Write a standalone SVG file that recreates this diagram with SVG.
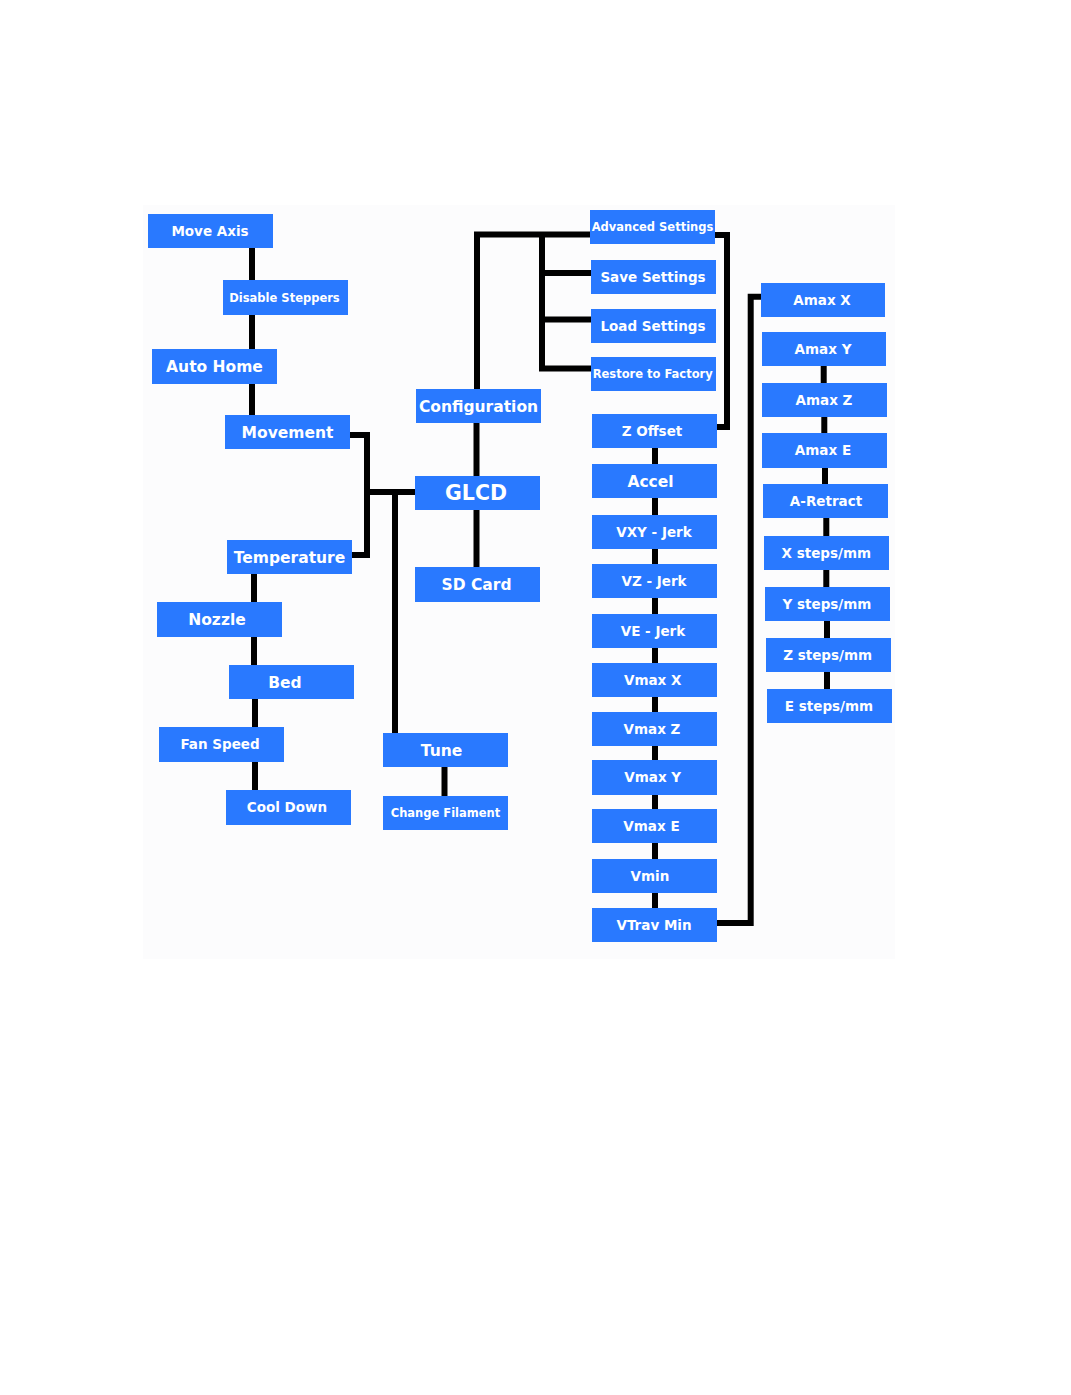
<svg xmlns="http://www.w3.org/2000/svg" width="1071" height="1395" viewBox="0 0 1071 1395">
<style>
.n rect{fill:#2979ff;}
.n text{fill:#ffffff;font-family:"DejaVu Sans","Liberation Sans",sans-serif;font-weight:bold;text-anchor:middle;}
.s{font-size:11.5px;}
.m{font-size:13.5px;}
.l{font-size:15.5px;}
.x{font-size:20.5px;}
#connectors path{fill:none;stroke:#000;stroke-width:6;}
</style>
<rect x="0" y="0" width="1071" height="1395" fill="#ffffff"/>
<rect x="143" y="205" width="752" height="754" fill="#fcfcfd"/>
<g id="connectors">
<path d="M252 248V280M252 315V349M252 383V415"/>
<path d="M350 435H367V555H352M367 492H416M395 492V733"/>
<path d="M254 574V602M254 637V665M255 699V727M255 762V790"/>
<path d="M444.5 767V796"/>
<path d="M476.5 423V476M476.5 510V567"/>
<path d="M477 389V234.5H590M542 234.5V368.5H591M542 273H591M542 319.5H591"/>
<path d="M715 235H727V427H717"/>
<path d="M655 448V464M655 498V515M655 549V564M655 598V614M655 648V663M655 697V712M655 746V760M655 795V809M655 843V859M655 893V908"/>
<path d="M717 923H750.7V296.8H761"/>
<path d="M823.7 366V383M824.3 417V433M825 468V484M826.3 518V536M826.3 570V587M827 621V638M827 672V689"/>
</g>
<g id="move-axis" class="n"><rect x="148" y="214" width="125" height="34"/><text class="m" x="210" y="235.9">Move Axis</text></g>
<g id="disable-steppers" class="n"><rect x="223" y="280" width="125" height="35"/><text class="s" x="284.5" y="301.6">Disable Steppers</text></g>
<g id="auto-home" class="n"><rect x="152" y="349" width="125" height="35"/><text class="l" x="214.5" y="372.1">Auto Home</text></g>
<g id="movement" class="n"><rect x="225" y="415" width="125" height="34"/><text class="l" x="287.5" y="437.6">Movement</text></g>
<g id="temperature" class="n"><rect x="227" y="540" width="125" height="34"/><text class="l" x="289.5" y="562.6">Temperature</text></g>
<g id="nozzle" class="n"><rect x="157" y="602" width="125" height="35"/><text class="l" x="217" y="625.1">Nozzle</text></g>
<g id="bed" class="n"><rect x="229" y="665" width="125" height="34"/><text class="l" x="285" y="687.6">Bed</text></g>
<g id="fan-speed" class="n"><rect x="159" y="727" width="125" height="35"/><text class="m" x="220" y="749.4">Fan Speed</text></g>
<g id="cool-down" class="n"><rect x="226" y="790" width="125" height="35"/><text class="m" x="287" y="812.4">Cool Down</text></g>
<g id="configuration" class="n"><rect x="416" y="389" width="125" height="34"/><text class="l" x="478.5" y="411.6">Configuration</text></g>
<g id="glcd" class="n"><rect x="415" y="476" width="125" height="34"/><text class="x" x="476" y="500.4">GLCD</text></g>
<g id="sd-card" class="n"><rect x="415" y="567" width="125" height="35"/><text class="l" x="476.5" y="590.1">SD Card</text></g>
<g id="tune" class="n"><rect x="383" y="733" width="125" height="34"/><text class="l" x="441.5" y="755.6">Tune</text></g>
<g id="change-filament" class="n"><rect x="383" y="796" width="125" height="34"/><text class="s" x="445.5" y="817.1">Change Filament</text></g>
<g id="advanced-settings" class="n"><rect x="590" y="210" width="125" height="34"/><text class="s" x="652.5" y="231.1">Advanced Settings</text></g>
<g id="save-settings" class="n"><rect x="591" y="260" width="125" height="34"/><text class="m" x="653" y="281.9">Save Settings</text></g>
<g id="load-settings" class="n"><rect x="591" y="309" width="125" height="34"/><text class="m" x="653" y="330.9">Load Settings</text></g>
<g id="restore-to-factory" class="n"><rect x="591" y="357" width="125" height="34"/><text class="s" x="652.7" y="378.1">Restore to Factory</text></g>
<g id="z-offset" class="n"><rect x="592" y="414" width="125" height="34"/><text class="m" x="652" y="435.9">Z Offset</text></g>
<g id="accel" class="n"><rect x="592" y="464" width="125" height="34"/><text class="l" x="650.5" y="486.6">Accel</text></g>
<g id="vxy-jerk" class="n"><rect x="592" y="515" width="125" height="34"/><text class="m" x="654" y="536.9">VXY - Jerk</text></g>
<g id="vz-jerk" class="n"><rect x="592" y="564" width="125" height="34"/><text class="m" x="654" y="585.9">VZ - Jerk</text></g>
<g id="ve-jerk" class="n"><rect x="592" y="614" width="125" height="34"/><text class="m" x="653" y="635.9">VE - Jerk</text></g>
<g id="vmax-x" class="n"><rect x="592" y="663" width="125" height="34"/><text class="m" x="652.7" y="684.9">Vmax X</text></g>
<g id="vmax-z" class="n"><rect x="592" y="712" width="125" height="34"/><text class="m" x="652" y="733.9">Vmax Z</text></g>
<g id="vmax-y" class="n"><rect x="592" y="760" width="125" height="35"/><text class="m" x="652.7" y="782.4">Vmax Y</text></g>
<g id="vmax-e" class="n"><rect x="592" y="809" width="125" height="34"/><text class="m" x="651.5" y="830.9">Vmax E</text></g>
<g id="vmin" class="n"><rect x="592" y="859" width="125" height="34"/><text class="m" x="650" y="880.9">Vmin</text></g>
<g id="vtrav-min" class="n"><rect x="592" y="908" width="125" height="34"/><text class="m" x="654" y="929.9">VTrav Min</text></g>
<g id="amax-x" class="n"><rect x="761" y="283" width="124" height="34"/><text class="m" x="822" y="304.9">Amax X</text></g>
<g id="amax-y" class="n"><rect x="762" y="332" width="124" height="34"/><text class="m" x="823" y="353.9">Amax Y</text></g>
<g id="amax-z" class="n"><rect x="762" y="383" width="125" height="34"/><text class="m" x="824" y="404.9">Amax Z</text></g>
<g id="amax-e" class="n"><rect x="762" y="433" width="125" height="35"/><text class="m" x="823" y="455.4">Amax E</text></g>
<g id="a-retract" class="n"><rect x="763" y="484" width="125" height="34"/><text class="m" x="826" y="505.9">A-Retract</text></g>
<g id="x-steps" class="n"><rect x="764" y="536" width="125" height="34"/><text class="m" x="826.3" y="557.9">X steps/mm</text></g>
<g id="y-steps" class="n"><rect x="765" y="587" width="125" height="34"/><text class="m" x="827" y="608.9">Y steps/mm</text></g>
<g id="z-steps" class="n"><rect x="766" y="638" width="125" height="34"/><text class="m" x="827.7" y="659.9">Z steps/mm</text></g>
<g id="e-steps" class="n"><rect x="767" y="689" width="125" height="34"/><text class="m" x="829" y="710.9">E steps/mm</text></g>
</svg>
